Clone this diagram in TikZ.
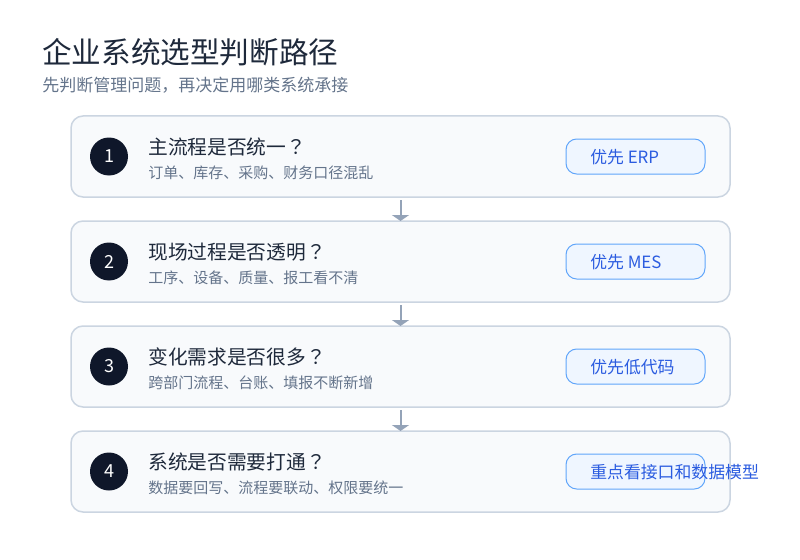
\documentclass[tikz,border=0pt]{standalone}
\usepackage{fontspec}
\setmainfont{Noto Sans CJK SC}
\newfontfamily\tcqfont{Noto Sans CJK TC}
\newcommand{\qmk}{{\tcqfont ？}}
\usetikzlibrary{arrows.meta}
\definecolor{ink}{HTML}{1E293B}
\definecolor{muted}{HTML}{64748B}
\definecolor{cardline}{HTML}{CBD5E1}
\definecolor{cardfill}{HTML}{F8FAFC}
\definecolor{dot}{HTML}{0F172A}
\definecolor{badgefill}{HTML}{EFF6FF}
\definecolor{badgeline}{HTML}{60A5FA}
\definecolor{badgetext}{HTML}{2B5CE0}
\definecolor{arrowc}{HTML}{94A3B8}
\tikzset{
  card/.style={draw=cardline, fill=cardfill, line width=1.125pt, rounded corners=9pt,
    minimum width=494.25pt, minimum height=60.75pt, inner sep=0pt, outer sep=0pt},
  dotnode/.style={circle, fill=dot, minimum size=28.5pt, inner sep=0pt, text=white,
    font=\fontsize{13.5pt}{15pt}\selectfont},
  qtitle/.style={anchor=west, inner sep=0pt, text=ink, font=\fontsize{14.8pt}{17pt}\selectfont},
  qsub/.style={anchor=west, inner sep=0pt, text=muted, font=\fontsize{11.25pt}{13pt}\selectfont},
  badge/.style={draw=badgeline, fill=badgefill, line width=0.75pt, rounded corners=8pt,
    minimum width=104.25pt, minimum height=26.25pt, inner sep=0pt},
  badgelabel/.style={anchor=west, inner sep=0pt, text=badgetext, font=\fontsize{12.65pt}{14pt}\selectfont},
  arr/.style={draw=arrowc, line width=1.5pt, shorten <=2.25pt,
    -{Triangle[width=12.75pt,length=4.5pt]}}
}
\begin{document}
\begin{tikzpicture}[x=0.75pt,y=-0.75pt]
\useasboundingbox[fill=white] (0,0) rectangle (800,560);
\node[anchor=west, inner sep=0pt, text=ink, font=\fontsize{22.2pt}{26pt}\selectfont] (title) at (42,52.5) {企业系统选型判断路径};
\node[anchor=west, inner sep=0pt, text=muted, font=\fontsize{12.75pt}{15pt}\selectfont] (subtitle) at (42,85) {先判断管理问题，再决定用哪类系统承接};

\foreach \i/\y/\t/\s/\b in {
  1/156.5/主流程是否统一/订单、库存、采购、财务口径混乱/优先 ERP,
  2/261.5/现场过程是否透明/工序、设备、质量、报工看不清/优先 MES,
  3/366.5/变化需求是否很多/跨部门流程、台账、填报不断新增/优先低代码,
  4/471.5/系统是否需要打通/数据要回写、流程要联动、权限要统一/重点看接口和数据模型}{
  \node[card] (c\i) at (400.5,\y) {};
  \node[dotnode] (n\i) at (109,\y) {\i};
  \node[qtitle] (t\i) at (148,\y-9.5) {\t\qmk};
  \node[qsub] (s\i) at (148,\y+16.5) {\s};
  \node[badge] (b\i) at (635.5,\y) {};
  \node[badgelabel] (l\i) at (590,\y+1) {\b};
}
\draw[arr] (c1.south) -- (c2.north);
\draw[arr] (c2.south) -- (c3.north);
\draw[arr] (c3.south) -- (c4.north);
\end{tikzpicture}
\end{document}
